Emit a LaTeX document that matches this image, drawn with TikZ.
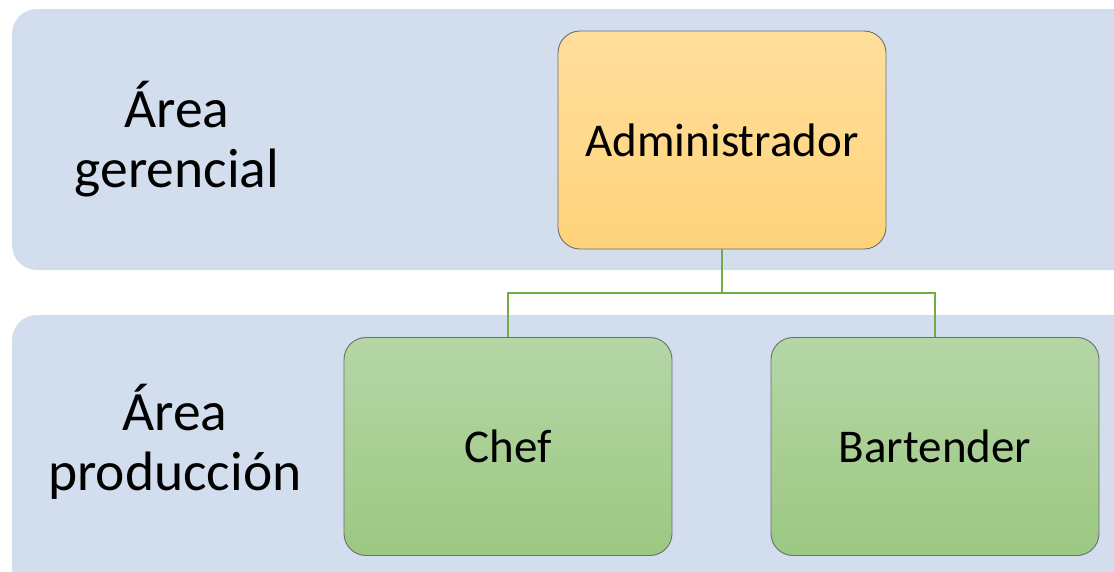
\documentclass[tikz,border=0pt]{standalone}
\usepackage{fontspec}
\setmainfont{Carlito}
\definecolor{bandblue}{HTML}{D2DDEE}
\definecolor{orgtop}{HTML}{FFDE9C}
\definecolor{orgbot}{HTML}{FFD37A}
\definecolor{grntop}{HTML}{B5D6A6}
\definecolor{grnbot}{HTML}{9CC882}
\definecolor{conngreen}{HTML}{70AD47}
\definecolor{edgegray}{HTML}{6E6E6E}
\begin{document}
\begin{tikzpicture}[x=1pt,y=-1pt,
  band/.style={fill=bandblue,draw=none,rounded corners=25pt},
  boxbase/.style={draw=edgegray,line width=0.9pt,rounded corners=22pt,
    minimum width=328pt,minimum height=218pt,inner sep=0pt,
    font=\fontsize{47}{60}\selectfont,align=center},
  orgbox/.style={boxbase,top color=orgtop,bottom color=orgbot},
  grnbox/.style={boxbase,top color=grntop,bottom color=grnbot},
  lbl/.style={font=\fontsize{55.5}{60}\selectfont,align=center,inner sep=0pt},
  conn/.style={draw=conngreen,line width=2.7pt}]
\useasboundingbox (0,0) rectangle (1114,571);
\fill[band] (12,9) rectangle (1140,270);
\fill[band] (12,315) rectangle (1140,600);
\node[lbl] (lg) at (177,139) {Área\\gerencial};
\node[lbl] (lp) at (175,442) {Área\\producción};
\node[orgbox] (admin) at (722,140) {Administrador};
\node[grnbox] (chef) at (508,446.5) {Chef};
\node[grnbox] (bart) at (935,446.5) {Bartender};
\coordinate (split) at (722,293);
\draw[conn] (admin.south) -- (split) -| (chef.north);
\draw[conn] (split) -| (bart.north);
\end{tikzpicture}
\end{document}
